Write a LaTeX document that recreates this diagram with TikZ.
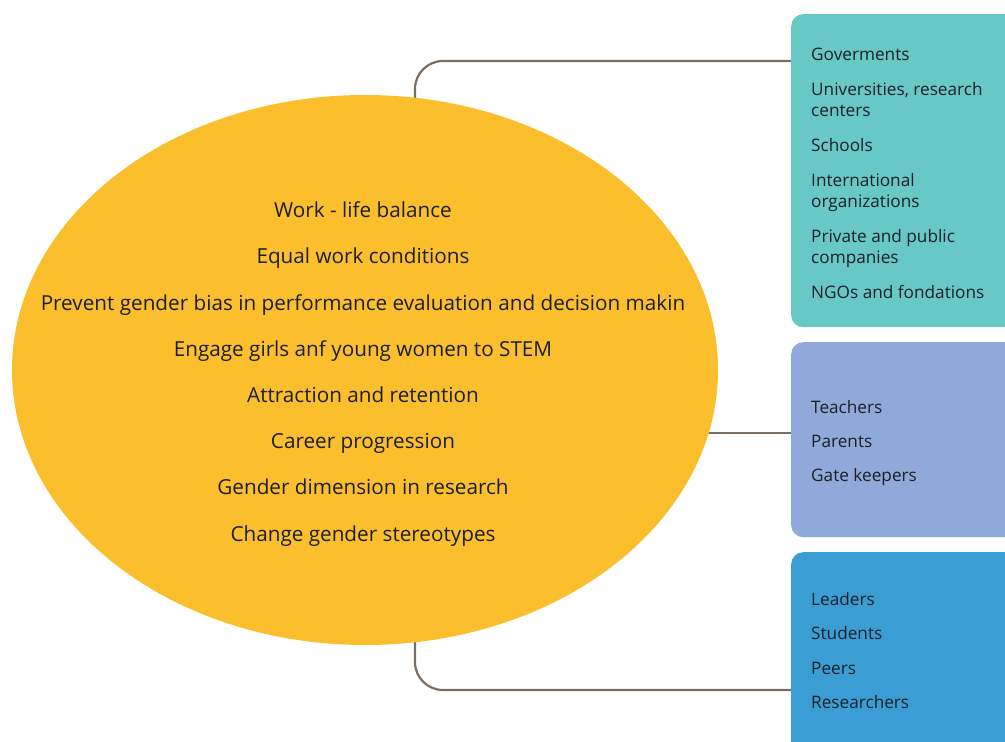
\documentclass[tikz,border=0pt]{standalone}
\usepackage{fontspec}
\setmainfont{Open Sans}
\usetikzlibrary{shapes.geometric,positioning,backgrounds}
\definecolor{goalfill}{HTML}{FBBF2E}
\definecolor{govfill}{HTML}{67C8C6}
\definecolor{eduFill}{HTML}{8FAAD9}
\definecolor{peerfill}{HTML}{3A9DD3}
\definecolor{linkcol}{HTML}{7A6E63}
\definecolor{txtcol}{HTML}{1C1F2A}
\tikzset{
     grp/.style={fill=#1, rectangle, rounded corners=12pt, anchor=north west,
                 minimum width=240pt, inner sep=0pt},
     grptext/.style={anchor=north west, align=left, inner sep=0pt, text=txtcol,
                 font=\fontsize{17.2}{21}\selectfont},
     goaltext/.style={anchor=base, text=txtcol, font=\fontsize{20.7}{24}\selectfont},
     link/.style={draw=linkcol, line width=2.2pt, rounded corners=28pt},
}
\def\ux{1pt}
\def\uy{-1pt}

\begin{document}
\begin{tikzpicture}[x=\ux,y=\uy]
		\useasboundingbox (0,0) rectangle (1005,742);

		% boxes on the right
		\node[grp=govfill, minimum height=313pt] (grp1) at (791,14) {};
		\node[grp=eduFill, minimum height=195pt] (grp2) at (791,342) {};
		\node[grp=peerfill, minimum height=210pt] (grp3) at (791,552) {};

		\node[grptext] (list1) at (811,47.5) {Goverments\\[14pt]
			Universities, research\\centers\\[14pt]
			Schools\\[14pt]
			International\\organizations\\[14pt]
			Private and public\\companies\\[14pt]
			NGOs and fondations};
		\node[grptext] (list2) at (811,400) {Teachers\\[13pt]Parents\\[13pt]Gate keepers};
		\node[grptext] (list3) at (811,592) {Leaders\\[13.5pt]Students\\[13.5pt]Peers\\[13.5pt]Researchers};

		% the ellipse
		\node[ellipse, fill=goalfill, minimum width=706pt, minimum height=550pt] (goals) at (365,370) {};
		\foreach \t [count=\i] in {Work - life balance, Equal work conditions,
			Prevent gender bias in performance evaluation and decision makin,
			Engage girls anf young women to STEM, Attraction and retention,
			Career progression, Gender dimension in research,
			Change gender stereotypes}{
			\node[goaltext] (g\i) at (363,171.5+46.2*\i) {\t};
		}

		% connectors
		\coordinate (c1) at ([yshift=-47pt]grp1.north west);
		\coordinate (c2) at ([yshift=7pt]grp2.west);
		\coordinate (c3) at ([yshift=-138pt]grp3.north west);
		\begin{scope}[on background layer]
			\draw[link] (c1) -| ([xshift=50pt]goals.center);
			\draw[link] (c2) -- (c2 -| goals.center);
			\draw[link] (c3) -| ([xshift=50pt]goals.center);
		\end{scope}
\end{tikzpicture}
\end{document}
